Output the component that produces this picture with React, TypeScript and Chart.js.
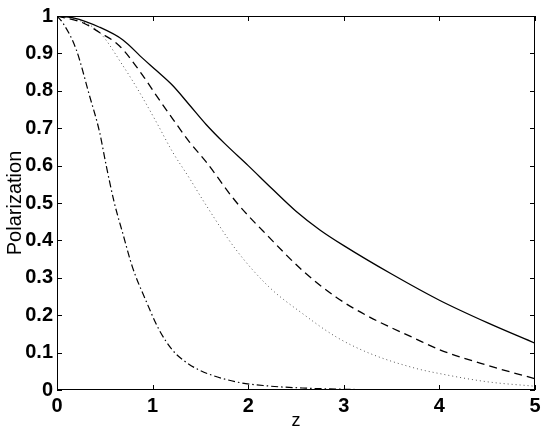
import React, { useEffect, useRef } from "react";
import { Chart, registerables } from "chart.js";

Chart.register(...registerables);

const solidZ = [0, 0.17, 0.445, 0.69, 0.9, 1.04, 1.21, 1.386, 1.56, 1.75, 2.0, 2.25, 2.5, 2.75, 3.0, 3.5, 4.0, 4.5, 5];
const solidP = [1, 0.995, 0.97, 0.936, 0.886, 0.854, 0.814, 0.762, 0.71, 0.66, 0.6, 0.538, 0.478, 0.428, 0.386, 0.31, 0.24, 0.18, 0.125];

const dashedZ = [0, 0.27, 0.445, 0.654, 0.9, 1.04, 1.21, 1.386, 1.56, 1.87, 2.22, 2.57, 2.92, 3.27, 3.75, 4.0, 4.5, 5];
const dashedP = [1, 0.982, 0.956, 0.92, 0.84, 0.787, 0.725, 0.663, 0.61, 0.504, 0.408, 0.319, 0.248, 0.195, 0.137, 0.108, 0.066, 0.03];

const dottedZ = [0, 0.2, 0.445, 0.69, 0.863, 1.04, 1.21, 1.386, 1.55, 1.87, 2.22, 2.57, 2.92, 3.27, 3.75, 4.0, 4.5, 5];
const dottedP = [1, 0.991, 0.956, 0.867, 0.796, 0.716, 0.636, 0.566, 0.498, 0.376, 0.275, 0.204, 0.142, 0.098, 0.058, 0.044, 0.022, 0.01];

const dashDotZ = [0, 0.06, 0.2, 0.34, 0.445, 0.515, 0.6, 0.69, 0.79, 0.93, 1.07, 1.21, 1.32, 1.49, 1.87, 2.2, 2.6, 3.0, 3.4];
const dashDotP = [1, 0.982, 0.911, 0.787, 0.69, 0.6, 0.5, 0.417, 0.328, 0.239, 0.16, 0.106, 0.08, 0.053, 0.022, 0.011, 0.005, 0.002, 0];

const xTicks = [0, 1, 2, 3, 4, 5];
const yTicks = [0, 0.1, 0.2, 0.3, 0.4, 0.5, 0.6, 0.7, 0.8, 0.9, 1];

const pts = (xs: number[], ys: number[]) => xs.map((x, i) => ({ x, y: ys[i] }));

const framePlugin = {
  id: "frame",
  afterDraw(chart: any) {
    const { ctx, chartArea: a, scales } = chart;
    ctx.save();
    ctx.strokeStyle = "#000";
    ctx.lineWidth = 1;
    ctx.strokeRect(a.left + 0.5, a.top + 0.5, a.right - a.left - 1, a.bottom - a.top - 1);
    const len = 5;
    ctx.beginPath();
    xTicks.forEach((t) => {
      const px = Math.round(scales.x.getPixelForValue(t)) + 0.5;
      ctx.moveTo(px, a.bottom);
      ctx.lineTo(px, a.bottom - len);
      ctx.moveTo(px, a.top);
      ctx.lineTo(px, a.top + len);
    });
    yTicks.forEach((t) => {
      const py = Math.round(scales.y.getPixelForValue(t)) + 0.5;
      ctx.moveTo(a.left, py);
      ctx.lineTo(a.left + len, py);
      ctx.moveTo(a.right, py);
      ctx.lineTo(a.right - len, py);
    });
    ctx.stroke();
    ctx.restore();
  },
};

export default function App() {
  const ref = useRef<HTMLCanvasElement | null>(null);
  useEffect(() => {
    document.body.style.margin = "0";
    const font = "'Liberation Sans', Arial, Helvetica, sans-serif";
    const line = (label: string, xs: number[], ys: number[], dash: number[], color: string, w: number) => ({
      label,
      data: pts(xs, ys),
      borderColor: color,
      borderWidth: w,
      borderDash: dash,
      pointRadius: 0,
      cubicInterpolationMode: "monotone" as const,
      fill: false,
    });
    const fmt = (v: any) => String(Math.round(Number(v) * 10) / 10);
    const chart = new Chart(ref.current!, {
      type: "line",
      data: {
        datasets: [
          line("solid", solidZ, solidP, [], "#000", 1.3),
          line("dashed", dashedZ, dashedP, [8, 5], "#000", 1.3),
          line("dotted", dottedZ, dottedP, [1, 3], "#555", 1),
          line("dashdot", dashDotZ, dashDotP, [7, 3, 1.5, 3], "#000", 1.2),
        ],
      },
      options: {
        animation: false,
        responsive: false,
        layout: { padding: { top: 14, right: 10, left: 0, bottom: 0 } },
        plugins: { legend: { display: false }, tooltip: { enabled: false } },
        scales: {
          x: {
            type: "linear",
            min: 0,
            max: 5,
            afterBuildTicks: (s: any) => {
              s.ticks = xTicks.map((v) => ({ value: v }));
            },
            afterFit: (s: any) => {
              s.height = 46;
            },
            grid: { display: false, drawTicks: false },
            border: { display: false },
            ticks: { color: "#000", padding: 4, callback: fmt, font: { family: font, size: 20, weight: "bold" } },
            title: { display: true, text: "z", color: "#000", padding: { top: 0, bottom: 4 }, font: { family: font, size: 18 } },
          },
          y: {
            type: "linear",
            min: 0,
            max: 1,
            afterBuildTicks: (s: any) => {
              s.ticks = yTicks.map((v) => ({ value: v }));
            },
            afterFit: (s: any) => {
              s.width = 57;
            },
            grid: { display: false, drawTicks: false },
            border: { display: false },
            ticks: { color: "#000", padding: 4, callback: fmt, font: { family: font, size: 20, weight: "bold" } },
            title: { display: true, text: "Polarization", color: "#000", padding: { top: 3, bottom: 0 }, font: { family: font, size: 20 } },
          },
        },
      },
      plugins: [framePlugin],
    });
    return () => chart.destroy();
  }, []);
  return <canvas ref={ref} width={545} height={436} style={{ display: "block" }} />;
}
